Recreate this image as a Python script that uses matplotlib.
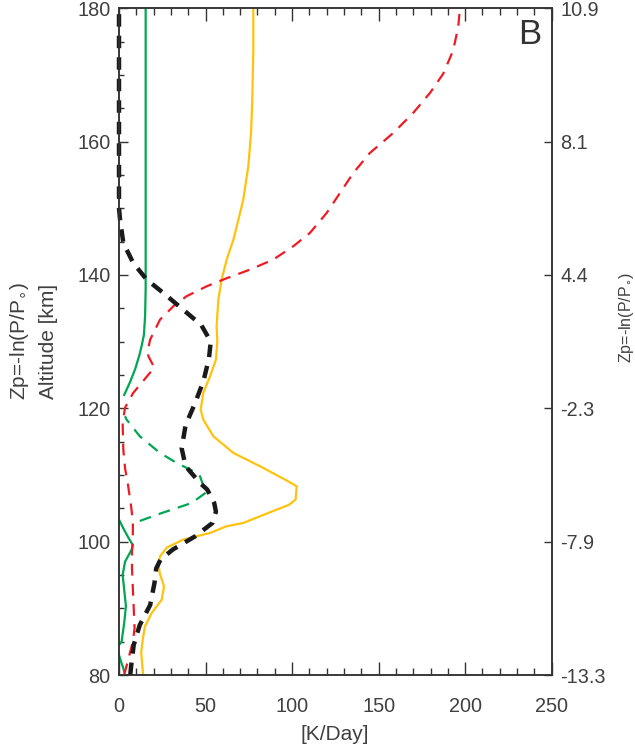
import numpy as np
import matplotlib
matplotlib.use('Agg')
import matplotlib.pyplot as plt

plt.rcParams['font.family'] = ['Liberation Sans', 'DejaVu Sans']
plt.rcParams['lines.scale_dashes'] = False

# Altitude (km) / heating rate (K/Day) pairs
black_alt = [80, 81.3, 84.5, 87.5, 90.5, 93.8, 96, 97.3, 98.8, 100.8, 102.8, 104.5, 105.8, 107.8,
             108.8, 111.3, 114, 117.5, 120.5, 124, 127.5, 130, 132.5, 134.8, 137.3, 139.3, 141.8,
             144.8, 148.3, 150, 180]
black_val = [6.5, 7, 8.5, 12, 18, 20.5, 21.5, 24, 31, 44, 54, 56, 55, 51,
             46.8, 38.5, 36.2, 38.5, 43.5, 48.7, 52, 53, 47.5, 37, 25.6, 16, 8.2,
             2.5, 0.6, 0, 0]

red_alt = [80, 83.5, 85, 87, 90, 93, 96, 98.5, 100.3, 103, 105.3, 108.5, 111, 113.8, 117.8, 120.1,
           122.3, 123.8, 126.1, 127.8, 128.5, 130.3, 133.3, 135.3, 136.8, 138.3, 139.5, 140.8,
           142.3, 144.3, 146.3, 149.3, 152.3, 155.3, 158.3, 161.3, 164.3, 167.3, 170.2, 173.7,
           177.2, 180]
red_val = [3, 6.5, 8, 9, 8.5, 8, 7.5, 7.5, 8, 8, 7, 5.2, 3.5, 2.5, 2.1, 3.5,
           8.2, 13, 20.4, 17, 16.5, 18, 23.7, 31.4, 39, 50.7, 62.2, 75.7,
           89.1, 100.7, 110.3, 120, 127.7, 135.4, 145, 158.5, 170, 179.7, 187.4, 193.1,
           196, 197]

yellow_alt = [80, 80.4, 83.4, 85.8, 87.3, 89.3, 90.3, 91.3, 93.3, 95.3, 96.8, 97.8, 99.1, 100.3,
              101.3, 102.3, 102.8, 104.2, 105.5, 106.3, 108.3, 109.3, 111.3, 113.3, 115.8, 118.3, 119.8,
              122.3, 124.8, 127.3, 130, 132.3, 136.3, 139.3, 142.3, 145.3, 148.3, 151.3, 156.3,
              161.3, 166.2, 173.7, 180]
yellow_val = [14, 13.8, 12.8, 14, 15, 18.9, 21.8, 24.7, 26, 23.5, 22.8, 23.7, 27.6, 37,
              52.6, 62, 71.8, 85.3, 98, 102, 102.7, 96, 81.5, 66.1, 54.5, 48.7, 47.2,
              48.7, 52.6, 56, 56.8, 56.4, 57.4, 59.3, 62.2, 66.1, 69, 71.8, 74.7,
              76.3, 77, 77.6, 77.6]

green_alt = [80.5, 81, 82, 83, 84, 85, 87.8, 90.3, 92.8, 95, 97, 98.8, 99.5, 100.6, 102, 103.3,
             np.nan,
             122, 124, 126, 128, 129.5, 131, 134, 138, 180]
green_val = [3, 2.5, 1.2, 0, -1.5, 1.5, 3, 4, 3, 2.1, 3.5, 7.3, 8, 5.4, 2.5, 0,
             np.nan,
             3, 6.5, 9.5, 11.8, 13.2, 14.4, 15.1, 15.4, 15.4]

green_d_alt = [103.1, 104.2, 105.8, 107.5, 108.2, 109.8, 110.3, 111.8, 113.3, 115.8, 118.3, 118.8]
green_d_val = [12, 23.7, 42, 51, 49, 46.8, 45, 33.3, 23.7, 12, 4.4, 3.5]

alt_ticks = [80, 100, 120, 140, 160, 180]
zp_labels = ['-13.3', '-7.9', '-2.3', '4.4', '8.1', '10.9']

W, H = 635, 746
fig = plt.figure(figsize=(W / 100, H / 100), dpi=100)
x0, x1, yt, yb = 119, 551.7, 8.2, 675
ax = fig.add_axes([x0 / W, 1 - yb / H, (x1 - x0) / W, (yb - yt) / H])

green = '#00a651'
red = '#ed1c24'
yellow = '#ffc20e'

ax.plot(green_val, green_alt, color=green, lw=1.6)
ax.plot(green_d_val, green_d_alt, color=green, lw=1.6, dashes=(8.5, 6))
ax.plot(yellow_val, yellow_alt, color=yellow, lw=1.6)
ax.plot(red_val, red_alt, color=red, lw=1.6, dashes=(8.5, 6))
ax.plot(black_val, black_alt, color='#1a1a1a', lw=3.2, dashes=(9, 6.5), zorder=3, clip_on=False)

ax.set_xlim(0, 250)
ax.set_ylim(80, 180)
tcol = '#404040'
scol = '#333333'
fs = 14.3
ax.set_xticks(np.arange(0, 251, 50))
ax.set_xticks(np.arange(0, 251, 10), minor=True)
ax.set_yticks(alt_ticks)
ax.set_yticks(np.arange(80, 181, 5), minor=True)
ax.tick_params(axis='x', which='major', direction='in', length=9.5, width=1, top=True,
               labelsize=fs, pad=15.5, colors=scol, labelcolor=tcol)
ax.tick_params(axis='x', which='minor', direction='in', length=5, width=1, top=True, colors=scol)
ax.tick_params(axis='y', which='major', direction='in', length=6.5, width=1, right=False,
               labelsize=fs, pad=6, colors=scol, labelcolor=tcol)
ax.tick_params(axis='y', which='minor', direction='in', length=3.5, width=1, right=False, colors=scol)
for s in ax.spines.values():
    s.set_color(scol)
    s.set_linewidth(1.1)

ax2 = ax.twinx()
ax2.set_ylim(80, 180)
ax2.set_yticks(alt_ticks)
ax2.set_yticklabels(zp_labels)
ax2.tick_params(axis='y', direction='in', length=6, width=1, labelsize=fs, pad=6,
                colors=scol, labelcolor=tcol)
for s in ax2.spines.values():
    s.set_color(scol)
    s.set_linewidth(1.1)

ax.text(0.975, 0.985, 'B', transform=ax.transAxes, ha='right', va='top', fontsize=25, color='#333333')

fig.text(335 / W, 1 - 735 / H, '[K/Day]', ha='center', va='center', fontsize=15, color=tcol)
fig.text(20 / W, 1 - 341.5 / H, 'Zp=-ln(P/P$_{\\circ}$)', rotation=90, ha='center', va='center',
         fontsize=15, color=tcol)
fig.text(48 / W, 1 - 341.5 / H, 'Altitude [km]', rotation=90, ha='center', va='center',
         fontsize=15, color=tcol)
fig.text(626 / W, 1 - 318 / H, 'Zp=-ln(P/P$_{\\circ}$)', rotation=90, ha='center', va='center',
         fontsize=11.5, color=tcol)

fig.savefig('out.png', dpi=100)
